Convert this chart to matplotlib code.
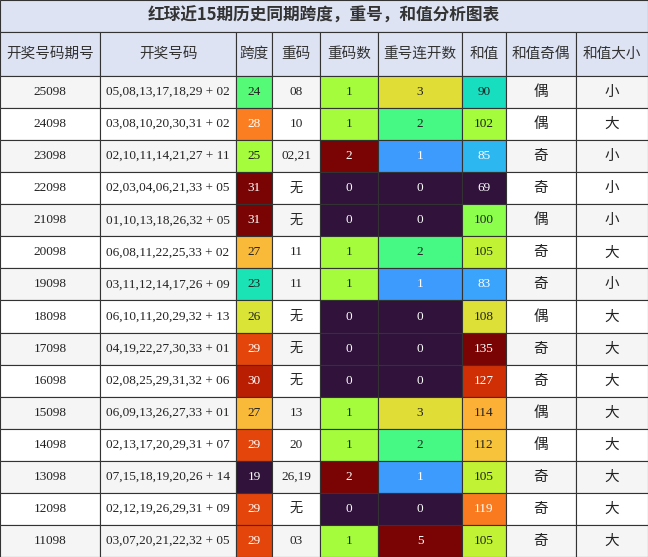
import numpy as np
import matplotlib.pyplot as plt
from matplotlib.patches import Rectangle
from matplotlib import colormaps

plt.rcParams['font.family'] = ['Noto Sans CJK SC', 'DejaVu Sans']

title = '红球近15期历史同期跨度，重号，和值分析图表'
headers = ['开奖号码期号', '开奖号码', '跨度', '重码', '重码数', '重号连开数', '和值', '和值奇偶', '和值大小']
periods = ['25098', '24098', '23098', '22098', '21098', '20098', '19098', '18098',
           '17098', '16098', '15098', '14098', '13098', '12098', '11098']
numbers = ['05,08,13,17,18,29 + 02', '03,08,10,20,30,31 + 02', '02,10,11,14,21,27 + 11',
           '02,03,04,06,21,33 + 05', '01,10,13,18,26,32 + 05', '06,08,11,22,25,33 + 02',
           '03,11,12,14,17,26 + 09', '06,10,11,20,29,32 + 13', '04,19,22,27,30,33 + 01',
           '02,08,25,29,31,32 + 06', '06,09,13,26,27,33 + 01', '02,13,17,20,29,31 + 07',
           '07,15,18,19,20,26 + 14', '02,12,19,26,29,31 + 09', '03,07,20,21,22,32 + 05']
span = [24, 28, 25, 31, 31, 27, 23, 26, 29, 30, 27, 29, 19, 29, 29]
repeat = ['08', '10', '02,21', '无', '无', '11', '11', '无', '无', '无', '13', '20', '26,19', '无', '03']
repeat_cnt = [1, 1, 2, 0, 0, 1, 1, 0, 0, 0, 1, 1, 2, 0, 1]
repeat_run = [3, 2, 1, 0, 0, 2, 1, 0, 0, 0, 3, 2, 1, 0, 5]
total = [90, 102, 85, 69, 100, 105, 83, 108, 135, 127, 114, 112, 105, 119, 105]
parity = ['偶', '偶', '奇', '奇', '偶', '奇', '奇', '偶', '奇', '奇', '偶', '偶', '奇', '奇', '奇']
size = ['小', '大', '小', '小', '小', '大', '小', '大', '大', '大', '大', '大', '大', '大', '大']

edges = [0, 100, 236, 272, 320, 378, 462, 506, 576, 648]
W, H = 648, 557
title_h, head_h = 32, 44
row_h = (H - title_h - head_h) / len(periods)
head_bg = '#dde3f3'
line_c = '#333333'
cmap = colormaps['turbo']

fig = plt.figure(figsize=(W / 100, H / 100), dpi=100)
ax = fig.add_axes([0, 0, 1, 1])
ax.set_xlim(0, W)
ax.set_ylim(H, 0)
ax.axis('off')

def cell(x0, x1, y0, y1, txt, bg, fc='#222222', serif=False, fs=10):
    ax.add_patch(Rectangle((x0, y0), x1 - x0, y1 - y0, facecolor=bg, edgecolor=line_c, lw=0.8))
    fam = ['Liberation Serif', 'Noto Sans CJK SC'] if serif else ['Noto Sans CJK SC', 'DejaVu Sans']
    ax.text((x0 + x1) / 2, (y0 + y1) / 2, txt, ha='center', va='center', color=fc, fontsize=fs, family=fam)

def heat(v, lo, hi):
    c = cmap((v - lo) / (hi - lo))
    lum = 0.299 * c[0] + 0.587 * c[1] + 0.114 * c[2]
    return c, ('white' if lum < 0.62 else '#222222')

ax.add_patch(Rectangle((0, 0), W, title_h, facecolor=head_bg, edgecolor=line_c, lw=0.8))
ax.text(W / 2, title_h / 2, title, ha='center', va='center', fontsize=12, fontweight='bold', color='#333333')
for j, h in enumerate(headers):
    cell(edges[j], edges[j + 1], title_h, title_h + head_h, h, head_bg, fc='#333333', fs=10.5)

ranges = {2: (min(span), max(span)), 4: (min(repeat_cnt), max(repeat_cnt)),
          5: (min(repeat_run), max(repeat_run)), 6: (min(total), max(total))}
for i in range(len(periods)):
    y0 = title_h + head_h + i * row_h
    y1 = y0 + row_h
    bg = '#f5f5f5' if i % 2 == 0 else 'white'
    vals = [periods[i], numbers[i], span[i], repeat[i], repeat_cnt[i], repeat_run[i], total[i], parity[i], size[i]]
    for j, v in enumerate(vals):
        if j in ranges:
            c, fc = heat(v, *ranges[j])
            cell(edges[j], edges[j + 1], y0, y1, str(v), c, fc=fc, serif=True, fs=9.5)
        elif j >= 7:
            cell(edges[j], edges[j + 1], y0, y1, v, bg, fs=10.5)
        else:
            cell(edges[j], edges[j + 1], y0, y1, v, bg, serif=True, fs=9.5)

fig.savefig('out.png', dpi=100)
